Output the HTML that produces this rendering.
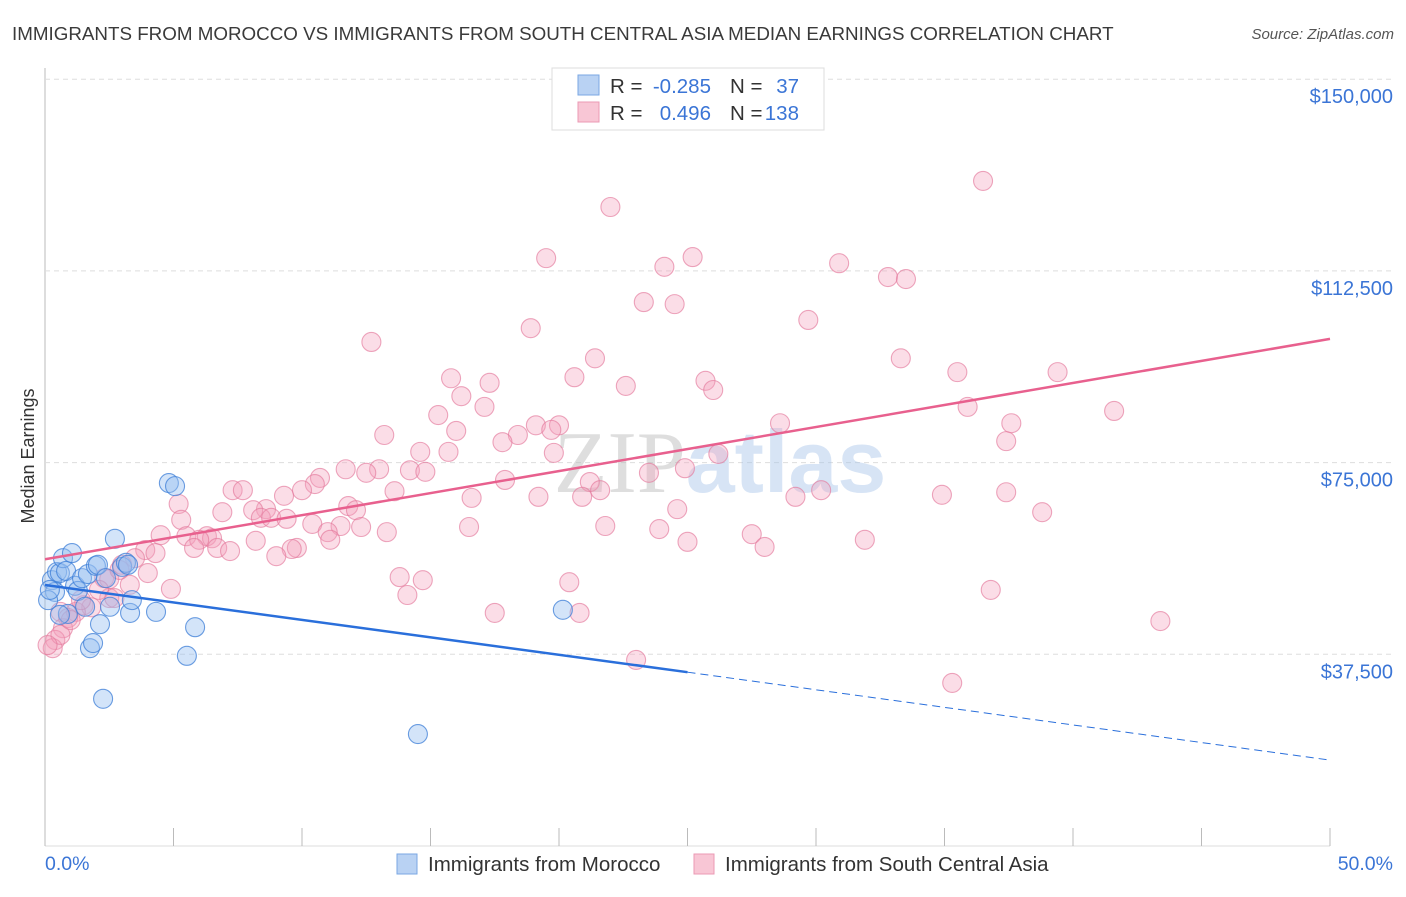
<!DOCTYPE html>
<html><head><meta charset="utf-8"><style>
body{margin:0;background:#fff;font-family:"Liberation Sans",sans-serif}
svg text{font-family:"Liberation Sans",sans-serif}
</style></head><body>
<svg id="chart" width="1406" height="892" xmlns="http://www.w3.org/2000/svg">
<text x="12" y="40" font-size="18.8" fill="#3a3a3a">IMMIGRANTS FROM MOROCCO VS IMMIGRANTS FROM SOUTH CENTRAL ASIA MEDIAN EARNINGS CORRELATION CHART</text>
<text x="1394" y="39" font-size="15" fill="#555" font-style="italic" text-anchor="end">Source: ZipAtlas.com</text>
<g id="grid"></g>
<text x="720" y="492" font-size="88" text-anchor="middle" fill="#c8d6ea" opacity="0.45"><tspan font-family="Liberation Serif" fill="#b8b8b8">ZIP</tspan><tspan font-weight="bold" fill="#a8c4ea">atlas</tspan></text>
<text transform="translate(34,456) rotate(-90)" font-size="18" fill="#333" text-anchor="middle">Median Earnings</text>
<g id="marks"></g>
<g id="trends"></g>
<g>
<rect x="552" y="68" width="272" height="62" fill="#fff" stroke="#ddd"/>
<rect x="578" y="75" width="21" height="20" fill="#b9d2f3" stroke="#7aa7e3"/>
<rect x="578" y="102" width="21" height="20" fill="#f8c6d5" stroke="#eb9ab4"/>
<text x="610" y="93" font-size="20.5" fill="#333">R = </text><text x="711" y="93" font-size="20.5" fill="#3b75d6" text-anchor="end">-0.285</text>
<text x="730" y="93" font-size="20.5" fill="#333">N = </text><text x="799" y="93" font-size="20.5" fill="#3b75d6" text-anchor="end">37</text>
<text x="610" y="120" font-size="20.5" fill="#333">R = </text><text x="711" y="120" font-size="20.5" fill="#3b75d6" text-anchor="end">0.496</text>
<text x="730" y="120" font-size="20.5" fill="#333">N = </text><text x="799" y="120" font-size="20.5" fill="#3b75d6" text-anchor="end">138</text>
</g>
<rect x="397" y="854" width="20" height="20" fill="#b9d2f3" stroke="#7aa7e3"/>
<text x="428" y="871" font-size="20.5" fill="#333">Immigrants from Morocco</text>
<rect x="694" y="854" width="20" height="20" fill="#f8c6d5" stroke="#eb9ab4"/>
<text x="725" y="871" font-size="20.5" fill="#333">Immigrants from South Central Asia</text>
</svg>
<script>
const yTicks=[37500,75000,112500,150000];
const yTickLabels=["$37,500","$75,000","$112,500","$150,000"];
const xTickLabels=["0.0%","50.0%"];
const blueX=[0.27,0.39,0.47,0.58,0.70,0.82,0.89,1.05,1.17,1.28,1.44,1.56,1.67,1.75,1.87,1.98,2.06,2.14,2.26,2.37,2.53,2.72,3.00,3.15,3.23,3.31,3.38,4.32,4.82,5.06,5.52,5.84,14.51,20.15,0.12,0.19,0.58];
const blueY=[52.0,49.7,53.6,53.4,56.3,53.8,45.4,57.3,50.9,49.9,52.4,46.8,53.2,38.7,39.7,54.8,55.0,43.4,28.8,52.4,46.8,60.1,54.6,55.4,55.0,45.6,48.1,45.8,71.0,70.4,37.2,42.8,21.9,46.2,48.1,50.1,45.2];
const pinkX=[36.5,22.0,19.5,25.2,24.1,30.9,32.8,33.5,23.3,24.5,29.7,18.9,12.7,21.4,33.3,35.5,39.4,20.6,15.8,17.3,25.7,22.6,26.0,16.2,17.1,41.6,35.9,15.3,37.6,28.6,19.1,20.0,19.7,16.0,13.2,18.4,17.8,37.4,15.7,14.6,19.8,26.2,11.7,13.0,14.2,14.8,12.5,24.9,23.5,17.9,10.7,10.5,21.2,10.0,21.6,13.6,7.3,7.7,9.3,19.2,16.6,34.9,37.4,20.9,29.2,30.2,5.2,11.8,8.6,12.1,6.9,8.1,24.6,38.8,8.4,8.8,5.3,9.4,10.4,16.5,11.5,12.3,23.9,21.8,13.3,11.0,4.5,5.5,6.3,6.5,6.0,27.5,11.1,8.2,9.8,9.6,25.0,31.9,5.8,6.7,7.2,3.9,4.3,28.0,3.5,9.0,3.0,4.0,2.3,2.5,3.3,4.9,13.8,14.7,20.4,36.8,14.1,2.5,1.5,1.8,0.6,1.2,0.9,0.7,0.4,0.3,17.5,20.8,43.4,23.0,35.3,2.9,2.1,2.7,0.6,0.1,1.0,1.4];
const pinkY=[130.1,125.0,115.0,115.2,113.3,114.0,111.3,110.9,106.4,106.0,102.9,101.3,98.6,95.4,95.4,92.7,92.7,91.7,91.5,90.6,91.0,90.0,89.2,88.0,85.9,85.1,85.9,84.3,82.7,82.7,82.3,82.3,81.4,81.2,80.4,80.4,79.0,79.2,77.1,77.1,76.9,76.7,73.7,73.7,73.5,73.2,73.0,73.9,73.0,71.6,72.0,70.8,71.2,69.6,69.6,69.4,69.6,69.6,68.5,68.3,68.1,68.7,69.2,68.3,68.3,69.6,66.9,66.5,65.9,65.7,65.3,65.7,65.9,65.3,64.2,64.2,63.8,64.0,63.0,62.4,62.6,62.4,62.0,62.6,61.4,61.4,60.8,60.6,60.6,60.2,59.9,61.0,59.9,59.7,58.3,58.1,59.5,59.9,58.3,58.3,57.7,57.9,57.3,58.5,56.3,56.7,55.0,53.4,52.4,52.2,51.1,50.3,52.6,52.0,51.6,50.1,49.1,48.5,47.1,46.7,45.8,45.8,44.6,42.6,40.3,38.7,45.6,45.6,44.0,36.4,31.9,54.0,50.1,48.5,41.3,39.3,44.2,48.1];
const blueTrendX=[0,25,50];
const blueTrendY=[51.05,34.0,16.8];
const pinkTrendX=[0,50];
const pinkTrendY=[56.1,99.2];
const NS="http://www.w3.org/2000/svg";
const X0=45,X1=1330,Yb=846,PX=191.7/37500;
function sx(p){return X0+(X1-X0)*p/50;}
function sy(v){return Yb-v*PX;}
function mk(t,a,parent){const e=document.createElementNS(NS,t);for(const k in a)e.setAttribute(k,a[k]);parent.appendChild(e);return e;}
const grid=document.getElementById('grid');
let e=mk('line',{x1:45,y1:68,x2:45,y2:846,stroke:'#bbb','stroke-width':1},grid);


e=mk('line',{x1:45,y1:846,x2:1330,y2:846,stroke:'#ddd','stroke-width':1},grid);


yTicks.forEach((v,i)=>{
 const g=mk('line',{x1:45,y1:sy(v),x2:1394,y2:sy(v),stroke:'#ddd','stroke-dasharray':'5,4'},grid);
 
 
 const t=mk('text',{x:1393,y:sy(v)+24,'font-size':20,fill:'#3b75d6','text-anchor':'end'},grid);
 t.textContent=yTickLabels[i];
 
 
});
for(let p=0;p<=50;p+=5){
 const t=mk('line',{x1:sx(p),y1:828,x2:sx(p),y2:846,stroke:'#bbb'},grid);
 
 
}
[[0,45,'start'],[1,1393,'end']].forEach(([i,x,a])=>{
 const t=mk('text',{x:x,y:870,'font-size':19.5,fill:'#3b75d6','text-anchor':a},grid);
 t.textContent=xTickLabels[i];
 
 
});
const marks=document.getElementById('marks');
pinkX.forEach((x,i)=>{
 const c=mk('circle',{cx:sx(x),cy:sy(pinkY[i]*1000),r:9.5,fill:'rgba(244,160,188,0.36)',stroke:'rgba(228,120,155,0.65)','stroke-width':1.1},marks);
 
 
});
blueX.forEach((x,i)=>{
 const c=mk('circle',{cx:sx(x),cy:sy(blueY[i]*1000),r:9.5,fill:'rgba(150,190,240,0.42)',stroke:'rgba(60,125,215,0.75)','stroke-width':1.1},marks);
 
 
});
const tr=document.getElementById('trends');
e=mk('line',{x1:sx(blueTrendX[0]),y1:sy(blueTrendY[0]*1000),x2:sx(blueTrendX[1]),y2:sy(blueTrendY[1]*1000),stroke:'#2a6fdb','stroke-width':2.5},tr);


e=mk('line',{x1:sx(blueTrendX[1]),y1:sy(blueTrendY[1]*1000),x2:sx(blueTrendX[2]),y2:sy(blueTrendY[2]*1000),stroke:'#2a6fdb','stroke-width':1,'stroke-dasharray':'8,5'},tr);


e=mk('line',{x1:sx(pinkTrendX[0]),y1:sy(pinkTrendY[0]*1000),x2:sx(pinkTrendX[1]),y2:sy(pinkTrendY[1]*1000),stroke:'#e8608e','stroke-width':2.5},tr);


</script>
</body></html>
